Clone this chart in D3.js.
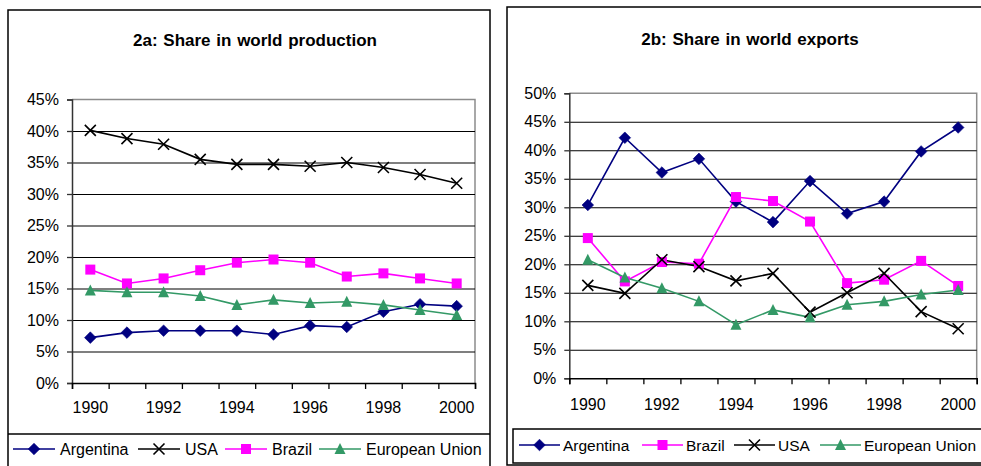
<!DOCTYPE html>
<html>
<head>
<meta charset="utf-8">
<script src="https://cdn.jsdelivr.net/npm/d3@7/dist/d3.min.js"></script>
<style>
  html, body { margin: 0; padding: 0; background: #fff; }
  svg { display: block; font-family: "Liberation Sans", Arial, sans-serif; }
</style>
</head>
<body>
<svg id="chart" width="981" height="466"></svg>
<script>
// Years on the category axis
const years = [1990, 1991, 1992, 1993, 1994, 1995, 1996, 1997, 1998, 1999, 2000];
const yearLabels = [1990, 1992, 1994, 1996, 1998, 2000];

// 2a: share in world production (%)
const prodArgentina = [7.2, 8.0, 8.3, 8.3, 8.3, 7.7, 9.1, 8.9, 11.3, 12.5, 12.2];
const prodUSA       = [40.1, 38.8, 37.9, 35.5, 34.7, 34.7, 34.4, 35.0, 34.2, 33.1, 31.7];
const prodBrazil    = [18.0, 15.8, 16.6, 17.9, 19.1, 19.6, 19.1, 16.9, 17.4, 16.6, 15.8];
const prodEU        = [14.7, 14.4, 14.4, 13.8, 12.4, 13.2, 12.7, 12.9, 12.4, 11.6, 10.8];
const prodTicks     = [0, 5, 10, 15, 20, 25, 30, 35, 40, 45];

// 2b: share in world exports (%)
const expArgentina = [30.4, 42.2, 36.1, 38.5, 31.0, 27.4, 34.6, 28.9, 31.0, 39.8, 44.0];
const expBrazil    = [24.6, 17.0, 20.4, 20.1, 31.8, 31.1, 27.5, 16.7, 17.3, 20.6, 16.2];
const expUSA       = [16.3, 14.9, 20.8, 19.6, 17.1, 18.4, 11.6, 15.0, 18.4, 11.7, 8.7];
const expEU        = [20.8, 17.7, 15.8, 13.5, 9.4, 12.0, 10.7, 12.9, 13.5, 14.7, 15.5];
const expTicks     = [0, 5, 10, 15, 20, 25, 30, 35, 40, 45, 50];

const svg = d3.select("#chart");

const styles = {
  Argentina: { color: "#000080", marker: "diamond" },
  USA: { color: "#000000", marker: "cross" },
  Brazil: { color: "#FF00FF", marker: "square" },
  "European Union": { color: "#339966", marker: "triangle" }
};

function drawMarker(g, type, color, cx, cy) {
  if (type === "diamond") {
    const r = 5.8;
    g.append("path").attr("d", `M${cx},${cy - r}L${cx + r},${cy}L${cx},${cy + r}L${cx - r},${cy}Z`)
      .attr("fill", color).attr("stroke", color).attr("stroke-width", 0.6);
  } else if (type === "square") {
    const s = 10;
    g.append("rect").attr("x", cx - s / 2).attr("y", cy - s / 2).attr("width", s).attr("height", s)
      .attr("fill", color);
  } else if (type === "triangle") {
    const w = 11, h = 10;
    g.append("path").attr("d", `M${cx},${cy - h / 2 - 1}L${cx + w / 2},${cy + h / 2}L${cx - w / 2},${cy + h / 2}Z`)
      .attr("fill", color);
  } else if (type === "cross") {
    const r = 5.5;
    g.append("path").attr("d", `M${cx - r},${cy - r}L${cx + r},${cy + r}M${cx - r},${cy + r}L${cx + r},${cy - r}`)
      .attr("stroke", color).attr("stroke-width", 1.6).attr("fill", "none");
  }
}

function panel(cfg) {
  const g = svg.append("g");

  // outer frame
  g.append("rect").attr("x", cfg.frame.x).attr("y", cfg.frame.y)
    .attr("width", cfg.frame.w).attr("height", cfg.frame.h)
    .attr("fill", "#fff").attr("stroke", "#000").attr("stroke-width", 1.5);

  // title
  g.append("text").attr("x", cfg.titleX).attr("y", cfg.titleY)
    .attr("text-anchor", "middle").attr("font-size", 17).attr("font-weight", "bold")
    .attr("word-spacing", 1).text(cfg.title);

  const p = cfg.plot;
  const x = d3.scaleBand().domain(years).range([p.left, p.right]).padding(0);
  const xEdge = d3.scaleLinear().domain([0, years.length]).range([p.left, p.right]);
  const y = d3.scaleLinear().domain([0, d3.max(cfg.ticks)]).range([p.bottom, p.top]);
  const cx = d => x(d) + x.bandwidth() / 2;

  // plot area border (top and right in grey)
  g.append("path")
    .attr("d", `M${p.left},${p.top}H${p.right}V${p.bottom}`)
    .attr("fill", "none").attr("stroke", "#8c8c8c").attr("stroke-width", 1.5);

  // gridlines
  g.append("g").attr("transform", `translate(${p.left},0)`)
    .call(d3.axisLeft(y).tickValues(cfg.ticks.filter(t => t > 0 && t < d3.max(cfg.ticks)))
      .tickSize(-(p.right - p.left)).tickFormat(""))
    .call(a => a.select(".domain").remove())
    .call(a => a.selectAll("line").attr("stroke", "#000").attr("stroke-width", 1.1));

  // y axis
  g.append("g").attr("transform", `translate(${p.left},0)`)
    .call(d3.axisLeft(y).tickValues(cfg.ticks).tickSize(5).tickPadding(cfg.yPad)
      .tickFormat(d => d + "%"))
    .call(a => a.select(".domain").attr("stroke", "#333").attr("stroke-width", 1.5))
    .call(a => a.selectAll("line").attr("stroke", "#333").attr("stroke-width", 1.3))
    .call(a => a.selectAll("text").attr("font-size", 16).attr("fill", "#000")
      .attr("font-family", "Liberation Sans, Arial, sans-serif"));

  // x axis: tick marks between categories
  g.append("g").attr("transform", `translate(0,${p.bottom})`)
    .call(d3.axisBottom(xEdge).tickValues(d3.range(years.length + 1)).tickSize(6).tickFormat(""))
    .call(a => a.select(".domain").attr("stroke", "#000").attr("stroke-width", 1.5))
    .call(a => a.selectAll("line").attr("stroke", "#000").attr("stroke-width", 1.3));

  // x axis labels at category centres
  g.append("g").attr("transform", `translate(0,${p.bottom})`)
    .call(d3.axisBottom(x).tickValues(yearLabels).tickSize(0).tickPadding(cfg.xPad))
    .call(a => a.select(".domain").remove())
    .call(a => a.selectAll("text").attr("font-size", 16).attr("fill", "#000")
      .attr("font-family", "Liberation Sans, Arial, sans-serif"));

  // series
  const line = d3.line().x((d, i) => cx(years[i])).y(d => y(d));
  cfg.series.forEach(s => {
    const st = styles[s.name];
    g.append("path").datum(s.values).attr("d", line)
      .attr("fill", "none").attr("stroke", st.color).attr("stroke-width", 1.6);
  });
  cfg.series.forEach(s => {
    const st = styles[s.name];
    const mg = g.append("g");
    s.values.forEach((v, i) => drawMarker(mg, st.marker, st.color, cx(years[i]), y(v)));
  });

  // legend
  const lg = g.append("g");
  if (cfg.legendBox) {
    const b = cfg.legendBox;
    lg.append("rect").attr("x", b.x).attr("y", b.y).attr("width", b.w).attr("height", b.h)
      .attr("fill", "#fff").attr("stroke", "#000").attr("stroke-width", 1.5);
  }
  if (cfg.legendRule) {
    const r = cfg.legendRule;
    lg.append("line").attr("x1", r.x1).attr("x2", r.x2).attr("y1", r.y).attr("y2", r.y)
      .attr("stroke", "#000").attr("stroke-width", 1.5);
  }
  const L = cfg.legend;
  cfg.series.forEach((s, i) => {
    const st = styles[s.name];
    const x0 = L.x[i];
    const ly = L.y;
    lg.append("line").attr("x1", x0).attr("x2", x0 + L.len).attr("y1", ly).attr("y2", ly)
      .attr("stroke", st.color).attr("stroke-width", 1.6);
    drawMarker(lg, st.marker, st.color, x0 + L.len / 2, ly);
    lg.append("text").attr("x", x0 + L.textOff).attr("y", ly + 6).attr("font-size", L.size)
      .attr("fill", "#000").text(s.name);
  });
}

panel({
  title: "2a: Share in world production",
  titleX: 255, titleY: 46,
  frame: { x: 8, y: 10, w: 482, h: 470 },
  plot: { left: 72, right: 475, top: 99.5, bottom: 383 },
  ticks: prodTicks, yPad: 8, xPad: 19,
  series: [
    { name: "Argentina", values: prodArgentina },
    { name: "USA", values: prodUSA },
    { name: "Brazil", values: prodBrazil },
    { name: "European Union", values: prodEU }
  ],
  legendRule: { x1: 8, x2: 490, y: 434 },
  legend: { x: [13, 138, 225, 319], y: 449, len: 42, textOff: 47, size: 16 }
});

panel({
  title: "2b: Share in world exports",
  titleX: 750, titleY: 45,
  frame: { x: 507, y: 7, w: 490, h: 458 },
  plot: { left: 569.3, right: 976.7, top: 93.3, bottom: 378.3 },
  ticks: expTicks, yPad: 8, xPad: 20,
  series: [
    { name: "Argentina", values: expArgentina },
    { name: "Brazil", values: expBrazil },
    { name: "USA", values: expUSA },
    { name: "European Union", values: expEU }
  ],
  legendBox: { x: 513, y: 429, w: 490, h: 34 },
  legend: { x: [519, 642, 734, 820], y: 445, len: 41, textOff: 44, size: 15.5 }
});
</script>
</body>
</html>
